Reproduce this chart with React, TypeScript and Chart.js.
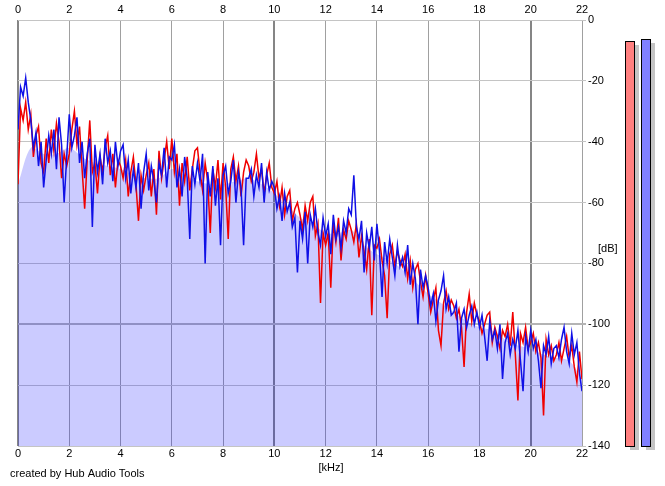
import React, { useEffect, useRef } from "react";
import { Chart, registerables } from "chart.js";

Chart.register(...registerables);

// Frequency bins (kHz) for the two channel spectra
const BIN_KHZ = 0.1;
const FILL_BIN_KHZ = 0.5;

// Tick labels
const xTicks = [0, 2, 4, 6, 8, 10, 12, 14, 16, 18, 20, 22];
const yTicks = [0, -20, -40, -60, -80, -100, -120, -140];

// Blue channel spectrum (dB), 0.0 .. 22.0 kHz step 0.1
const blueDb = [
  -36, -22, -25, -19, -27, -33, -42, -37, -48, -40,
  -55, -46, -38, -44, -36, -49, -32, -41, -60, -45,
  -31, -42, -38, -32, -47, -40, -52, -44, -39, -68,
  -41, -50, -44, -54, -39, -47, -43, -53, -40, -48,
  -43, -41, -52, -46, -57, -49, -55, -47, -62, -50,
  -44, -56, -48, -53, -60, -47, -51, -42, -55, -45,
  -46, -41, -55, -49, -58, -45, -52, -72, -48, -54,
  -47, -53, -44, -80, -50, -58, -48, -61, -52, -74,
  -51, -48, -57, -53, -46, -60, -50, -55, -74, -52,
  -52, -49, -58, -51, -55, -47, -60, -50, -56, -53,
  -55, -62, -58, -66, -57, -63, -60, -68, -65, -83,
  -66, -72, -63, -80, -64, -68, -62, -70, -74, -65,
  -71, -67, -77, -64, -72, -68, -75, -66, -70, -62,
  -64, -51, -68, -72, -66, -83, -70, -75, -68, -79,
  -67, -76, -91, -73, -80, -72, -78, -84, -74, -81,
  -78, -83, -74, -87, -80, -85, -100, -82, -88, -84,
  -88, -94, -90, -99, -92, -89, -84, -95, -91, -97,
  -96, -93, -109, -98, -95, -101, -97, -94, -100, -96,
  -101, -97, -104, -112, -99, -105, -102, -108, -100, -118,
  -106, -103, -110, -105, -108, -102, -112, -122, -104, -109,
  -102, -108, -105, -112, -121, -107, -110, -104, -113, -108,
  -107, -111, -105, -101, -109, -113, -103, -110, -106, -116, -122,
];

// Red channel spectrum (dB), 0.0 .. 22.0 kHz step 0.1
const redDb = [
  -54, -29, -33, -27, -36, -31, -45, -38, -35, -47,
  -50, -39, -47, -36, -43, -34, -40, -52, -44, -48,
  -44, -36, -30, -41, -35, -49, -62, -46, -33, -50,
  -47, -57, -45, -50, -42, -38, -51, -44, -55, -46,
  -48, -52, -46, -58, -50, -45, -54, -66, -51, -56,
  -51, -47, -58, -49, -64, -43, -52, -46, -40, -49,
  -39, -50, -44, -61, -47, -53, -45, -56, -49, -43,
  -42, -50, -56, -47, -53, -70, -49, -55, -46, -59,
  -47, -55, -72, -49, -45, -53, -48, -58, -50, -46,
  -48, -53, -50, -44, -52, -49, -57, -51, -47, -55,
  -57, -53, -61, -55, -64, -58, -56, -66, -62, -60,
  -64, -69, -61, -66, -60, -58, -71, -67, -93, -70,
  -74, -70, -88, -67, -73, -65, -79, -69, -72, -66,
  -69, -73, -67, -78, -71, -76, -82, -72, -97, -74,
  -75, -72, -79, -84, -98, -77, -74, -81, -76, -79,
  -81, -77, -85, -79, -88, -82, -80, -86, -91, -84,
  -90, -96, -92, -88, -102, -107, -93, -89, -95, -92,
  -94, -98, -95, -101, -114, -96, -90, -99, -93, -97,
  -99, -103, -100, -97, -96, -106, -101, -104, -108, -102,
  -104, -100, -107, -96, -110, -125, -103, -106, -101, -108,
  -106, -103, -109, -106, -111, -130, -105, -110, -107, -112,
  -110, -106, -112, -108, -104, -111, -107, -114, -119, -109, -118,
];

// Average spectrum shown as the filled area (dB), 0 .. 22 kHz step 0.5
const fillDb = [
  -54, -42, -44, -44, -42, -45, -47, -48, -49, -51,
  -52, -52, -49, -51, -53, -54, -54, -53, -52, -54,
  -57, -61, -65, -67, -70, -70, -69, -74, -77, -79,
  -82, -86, -90, -93, -96, -99, -101, -102, -105, -107,
  -108, -110, -111, -112, -118,
];

// Level meters (dB): red channel, blue channel
const meterDb = [-6.9, -6.3];

const FONT = '"Liberation Sans", Arial, sans-serif';

export default function App() {
  const canvasRef = useRef<HTMLCanvasElement | null>(null);

  useEffect(() => {
    document.body.style.margin = "0";
    const canvas = canvasRef.current;
    if (!canvas) return;

    const toXY = (arr: number[], step: number) =>
      arr.map((v, i) => ({ x: Math.round(i * step * 100) / 100, y: v }));

    const overlay = {
      id: "overlay",
      afterDraw(chart: any) {
        const ctx = chart.ctx as CanvasRenderingContext2D;
        const ys = chart.scales.y;
        const bottom = ys.getPixelForValue(-140);
        const meters = [
          { left: 625, color: "#ff8080", v: meterDb[0] },
          { left: 641, color: "#8080ff", v: meterDb[1] },
        ];
        const w = 9;
        ctx.save();
        for (const m of meters) {
          const top = Math.round(ys.getPixelForValue(m.v));
          ctx.fillStyle = "#c4c4c4";
          ctx.fillRect(m.left + 5, top + 4, w, bottom - top);
          ctx.fillStyle = m.color;
          ctx.fillRect(m.left, top, w, bottom - top);
          ctx.strokeStyle = "#000";
          ctx.lineWidth = 1;
          ctx.strokeRect(m.left + 0.5, top + 0.5, w, bottom - top);
        }
        ctx.fillStyle = "#000";
        ctx.font = `11px ${FONT}`;
        ctx.textBaseline = "middle";
        ctx.textAlign = "left";
        ctx.fillText("[dB]", 598, 249);
        ctx.fillText("created by Hub Audio Tools", 10, 474);
        ctx.textAlign = "center";
        ctx.fillText("[kHz]", 331, 468);
        ctx.restore();
      },
    };

    const xGridColor = (c: any) =>
      c.tick && Math.abs(c.tick.value % 10) < 1e-6 ? "#858585" : "#a0a0a0";
    const xGridWidth = (c: any) =>
      c.tick && Math.abs(c.tick.value % 10) < 1e-6 ? 2 : 1;

    const chart = new Chart(canvas, {
      type: "line",
      data: {
        datasets: [
          {
            label: "blue",
            data: toXY(blueDb, BIN_KHZ),
            borderColor: "#1010e6",
            borderWidth: 1.5,
            pointRadius: 0,
            fill: false,
            tension: 0,
            order: 0,
          },
          {
            label: "red",
            data: toXY(redDb, BIN_KHZ),
            borderColor: "#f00000",
            borderWidth: 1.5,
            pointRadius: 0,
            fill: false,
            tension: 0,
            order: 1,
          },
          {
            label: "avg",
            data: toXY(fillDb, FILL_BIN_KHZ),
            borderWidth: 0,
            borderColor: "rgba(0,0,0,0)",
            backgroundColor: "rgba(20,20,255,0.22)",
            pointRadius: 0,
            fill: "start",
            tension: 0.3,
            order: 2,
          },
        ],
      },
      options: {
        responsive: false,
        animation: false,
        devicePixelRatio: 1,
        layout: { padding: { left: 18, right: 0, top: 0, bottom: 0 } },
        plugins: {
          legend: { display: false },
          tooltip: { enabled: false },
        },
        scales: {
          x: {
            type: "linear",
            position: "bottom",
            min: 0,
            max: 22,
            afterBuildTicks: (s: any) => {
              s.ticks = xTicks.map((v) => ({ value: v }));
            },
            afterFit: (s: any) => {
              s.height = 40;
            },
            ticks: {
              color: "#000",
              font: { family: FONT, size: 11 },
              padding: 1,
              maxRotation: 0,
              autoSkip: false,
            },
            grid: {
              color: xGridColor,
              lineWidth: xGridWidth,
              drawTicks: false,
            },
            border: { display: false },
          },
          x2: {
            type: "linear",
            position: "top",
            min: 0,
            max: 22,
            afterBuildTicks: (s: any) => {
              s.ticks = xTicks.map((v) => ({ value: v }));
            },
            afterFit: (s: any) => {
              s.height = 20;
            },
            ticks: {
              color: "#000",
              font: { family: FONT, size: 11 },
              padding: 3,
              maxRotation: 0,
              autoSkip: false,
            },
            grid: { display: false, drawTicks: false },
            border: { display: false },
          },
          y: {
            type: "linear",
            position: "right",
            min: -140,
            max: 0,
            afterBuildTicks: (s: any) => {
              s.ticks = yTicks.map((v) => ({ value: v }));
            },
            afterFit: (s: any) => {
              s.width = 83;
            },
            ticks: {
              color: "#000",
              font: { family: FONT, size: 11 },
              padding: 2,
              autoSkip: false,
            },
            grid: {
              color: (c: any) => (c.tick && c.tick.value === -100 ? "#b4b4b4" : "#c4c4c4"),
              lineWidth: (c: any) => (c.tick && c.tick.value === -100 ? 2 : 1),
              tickLength: 4,
            },
            border: { display: false },
          },
        },
      },
      plugins: [overlay],
    } as any);

    return () => {
      chart.destroy();
    };
  }, []);

  return (
    <div style={{ width: 665, height: 486, position: "relative", background: "#fff" }}>
      <canvas ref={canvasRef} width={665} height={486} />
    </div>
  );
}
